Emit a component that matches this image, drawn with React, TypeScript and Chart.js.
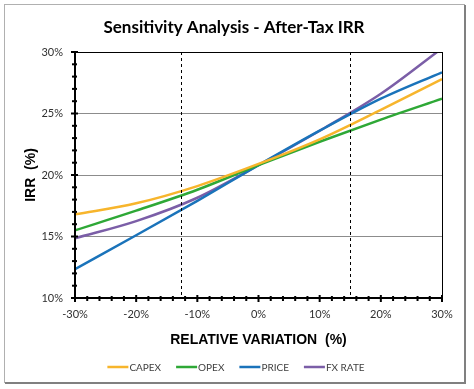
import React, { useEffect, useRef } from "react";
import { Chart, registerables } from "chart.js";

Chart.register(...registerables);

const variation = [-30, -20, -10, 0, 10, 20, 30];
const capex = [16.8, 17.7, 19.1, 20.9, 22.9, 25.3, 27.8];
const opex = [15.5, 17.1, 18.8, 20.8, 22.7, 24.5, 26.2];
const price = [12.35, 15.1, 17.9, 20.8, 23.6, 26.2, 28.35];
const fxRate = [14.85, 16.25, 18.15, 20.8, 23.6, 26.6, 30.3];
const seriesNames = ["CAPEX", "OPEX", "PRICE", "FX RATE"];
const seriesColors = ["#F7B52C", "#2EA836", "#1A73BA", "#7B5EA7"];
const markerLines = [-12.7, 15];
const xLabelsEvery = 10;
const yGridEvery = 5;

const TITLE = "Sensitivity Analysis - After-Tax IRR";
const X_TITLE = "RELATIVE VARIATION  (%)";
const Y_TITLE = "IRR  (%)";

const decorPlugin = {
  id: "decor",
  beforeDraw(chart: any) {
    const { ctx, width, height } = chart;
    ctx.save();
    ctx.fillStyle = "#ffffff";
    ctx.fillRect(0, 0, width, height);
    // frame
    ctx.strokeStyle = "#b0b0b0";
    ctx.lineWidth = 1;
    ctx.strokeRect(4.5, 4.5, 460, 378);
    ctx.strokeStyle = "#808080";
    ctx.lineWidth = 2;
    ctx.beginPath();
    ctx.moveTo(465, 5);
    ctx.lineTo(465, 383);
    ctx.lineTo(5, 383);
    ctx.stroke();
    // title
    ctx.fillStyle = "#000000";
    ctx.font = "bold 17px Lato";
    ctx.textAlign = "center";
    ctx.textBaseline = "middle";
    ctx.fillText(TITLE, 234, 28);
    ctx.restore();
  },
  afterDatasetsDraw(chart: any) {
    const { ctx, chartArea, scales } = chart;
    const xs = scales.x;
    const ys = scales.y;
    ctx.save();
    // dashed marker lines
    ctx.strokeStyle = "#000000";
    ctx.lineWidth = 1;
    ctx.setLineDash([3, 3]);
    markerLines.forEach((v) => {
      const px = Math.round(xs.getPixelForValue(v)) + 0.5;
      ctx.beginPath();
      ctx.moveTo(px, chartArea.top);
      ctx.lineTo(px, chartArea.bottom);
      ctx.stroke();
    });
    ctx.setLineDash([]);
    // plot border
    ctx.strokeStyle = "#000000";
    ctx.lineWidth = 1;
    ctx.strokeRect(
      Math.round(chartArea.left) + 0.5,
      Math.round(chartArea.top) + 0.5,
      Math.round(chartArea.right - chartArea.left),
      Math.round(chartArea.bottom - chartArea.top)
    );
    ctx.lineWidth = 2;
    ctx.beginPath();
    ctx.moveTo(chartArea.left, chartArea.top);
    ctx.lineTo(chartArea.left, chartArea.bottom);
    ctx.lineTo(chartArea.right, chartArea.bottom);
    ctx.stroke();
    // tick marks
    ctx.lineWidth = 2;
    xs.ticks.forEach((t: any) => {
      const px = xs.getPixelForValue(t.value);
      const major = Math.abs(t.value % xLabelsEvery) < 1e-6;
      ctx.beginPath();
      ctx.moveTo(px, chartArea.bottom - (major ? 3 : 2));
      ctx.lineTo(px, chartArea.bottom + (major ? 4 : 3));
      ctx.stroke();
    });
    ys.ticks.forEach((t: any) => {
      const py = ys.getPixelForValue(t.value);
      const major = Math.abs(t.value % yGridEvery) < 1e-6;
      ctx.beginPath();
      ctx.moveTo(chartArea.left - (major ? 4 : 3), py);
      ctx.lineTo(chartArea.left + (major ? 3 : 2), py);
      ctx.stroke();
    });
    ctx.restore();
  },
  afterDraw(chart: any) {
    const { ctx } = chart;
    ctx.save();
    ctx.font = "10px Lato";
    ctx.textBaseline = "middle";
    ctx.textAlign = "left";
    const lineLen = 21;
    const gap = 15;
    const items = chart.data.datasets.map((d: any) => ({
      label: d.label,
      color: d.borderColor,
      w: lineLen + 1 + ctx.measureText(d.label).width,
    }));
    const total = items.reduce((s: number, it: any) => s + it.w, 0) + gap * (items.length - 1);
    let x = 236 - total / 2;
    const y = 367;
    items.forEach((it: any) => {
      ctx.strokeStyle = it.color;
      ctx.lineWidth = 2.5;
      ctx.beginPath();
      ctx.moveTo(x, y);
      ctx.lineTo(x + lineLen, y);
      ctx.stroke();
      ctx.fillStyle = "#404040";
      ctx.fillText(it.label, x + lineLen + 1, y + 0.5);
      x += it.w + gap;
    });
    ctx.restore();
  },
};

export default function App() {
  const ref = useRef<HTMLCanvasElement>(null);
  useEffect(() => {
    document.body.style.margin = "0";
    const seriesValues = [capex, opex, price, fxRate];
    const chart = new Chart(ref.current!, {
      type: "line",
      data: {
        datasets: seriesNames.map((name, i) => ({
          label: name,
          data: variation.map((v, j) => ({ x: v, y: seriesValues[i][j] })),
          borderColor: seriesColors[i],
          backgroundColor: seriesColors[i],
          borderWidth: 2.5,
          pointRadius: 0,
          cubicInterpolationMode: "monotone" as const,
          fill: false,
        })),
      },
      options: {
        animation: false,
        responsive: false,
        layout: { padding: { left: 0, right: 32, top: 52, bottom: 40 } },
        plugins: {
          legend: { display: false },
          tooltip: { enabled: false },
          title: { display: false },
        },
        scales: {
          x: {
            type: "linear",
            min: -30,
            max: 30,
            border: { display: false },
            grid: { display: false, drawTicks: false },
            ticks: {
              stepSize: 2,
              autoSkip: false,
              maxRotation: 0,
              padding: 10,
              color: "#303030",
              font: { family: "Lato", size: 11 },
              callback: (v: any) =>
                Math.abs(Number(v) % xLabelsEvery) < 1e-6 ? `${v}%` : "",
            },
            title: {
              display: true,
              text: X_TITLE,
              color: "#000000",
              font: { family: "Liberation Sans", size: 14, weight: "bold" },
              padding: { top: 4, bottom: 0 },
            },
            afterFit: (s: any) => {
              s.height = 51;
            },
          },
          y: {
            min: 10,
            max: 30,
            border: { display: false },
            grid: {
              drawTicks: false,
              lineWidth: 1,
              color: (c: any) =>
                c.tick && Math.abs(c.tick.value % yGridEvery) < 1e-6 ? "#8c8c8c" : "rgba(0,0,0,0)",
            },
            ticks: {
              stepSize: 1,
              autoSkip: false,
              padding: 12,
              color: "#303030",
              font: { family: "Lato", size: 11 },
              callback: (v: any) =>
                Math.abs(Number(v) % yGridEvery) < 1e-6 ? `${v}%` : "",
            },
            title: {
              display: true,
              text: Y_TITLE,
              color: "#000000",
              font: { family: "Liberation Sans", size: 14, weight: "bold" },
              padding: { top: 23, bottom: 0 },
            },
            afterFit: (s: any) => {
              s.width = 75;
            },
          },
        },
      },
      plugins: [decorPlugin],
    });
    return () => chart.destroy();
  }, []);
  return <canvas ref={ref} width={474} height={389} style={{ display: "block" }} />;
}
